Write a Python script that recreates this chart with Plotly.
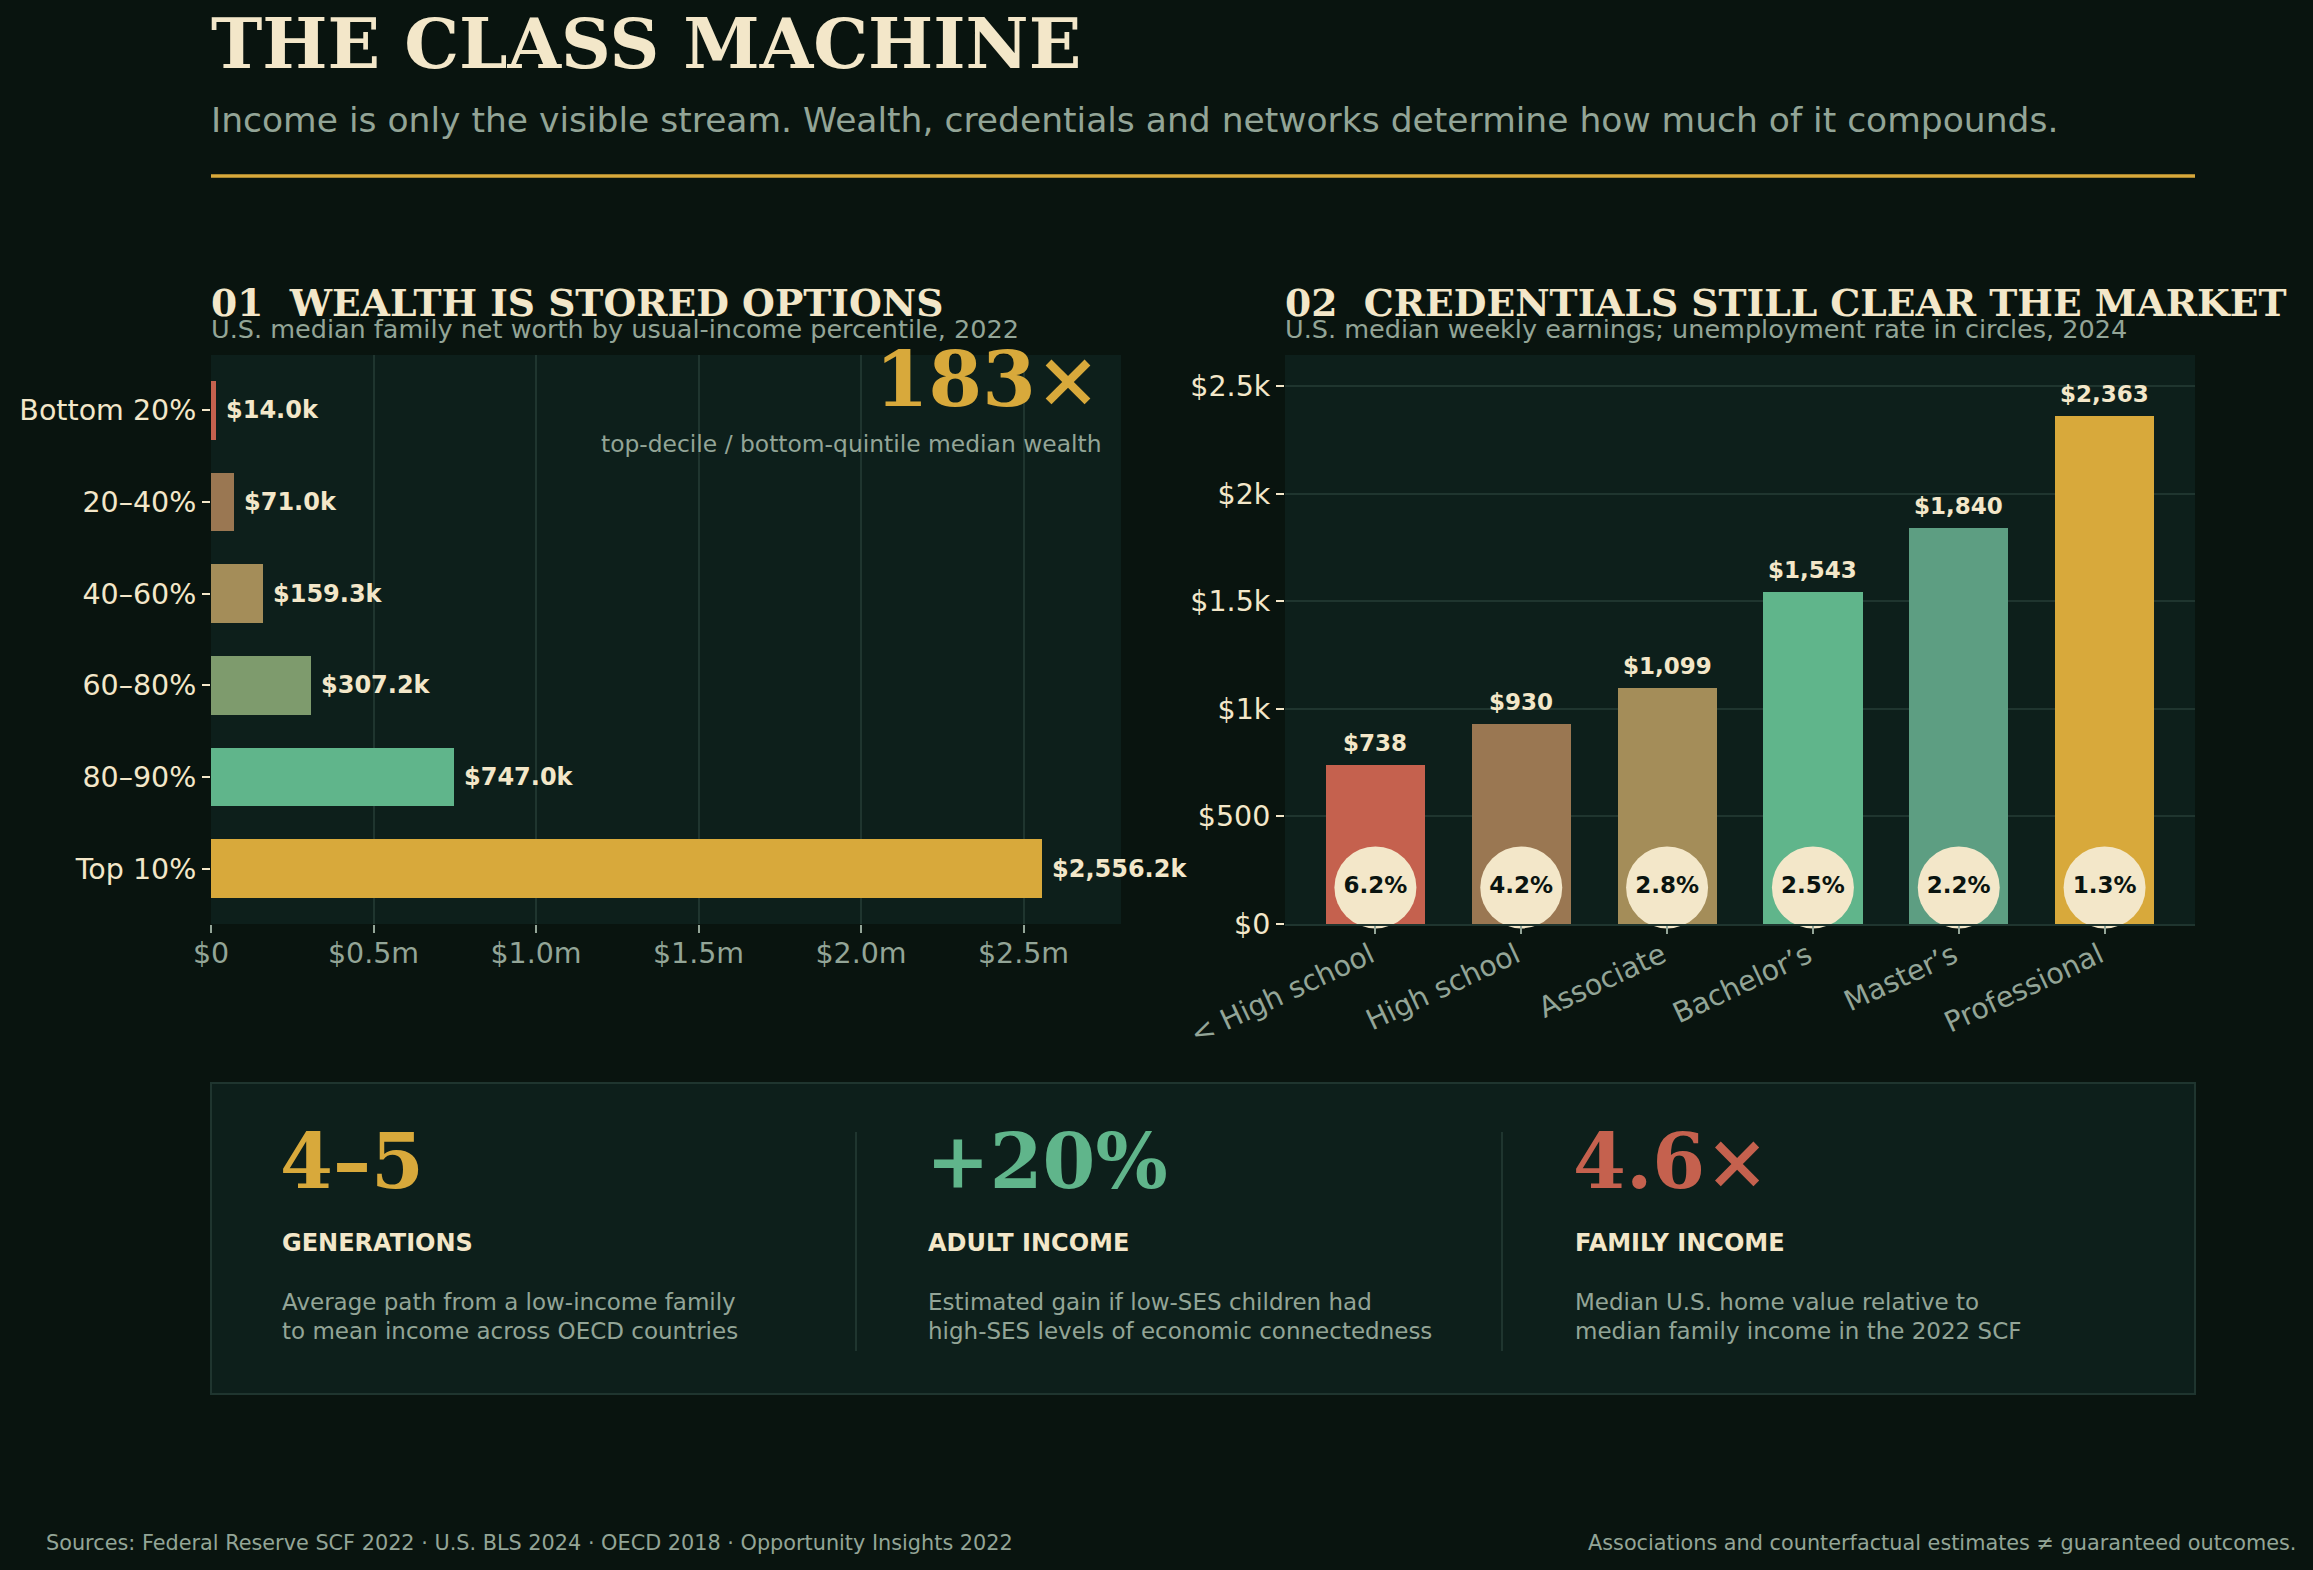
import plotly.graph_objects as go

W, H = 2313, 1570

# ---------------- data ----------------
wealth_groups = ["Bottom 20%", "20–40%", "40–60%", "60–80%", "80–90%", "Top 10%"]
wealth_values_k = [14.0, 71.0, 159.3, 307.2, 747.0, 2556.2]
wealth_colors = ["#c5614e", "#9a7752", "#a48d59", "#7e9b6d", "#60b58b", "#d8a93b"]
wealth_ticks_k = [0, 500, 1000, 1500, 2000, 2500]
wealth_tick_labels = ["$0", "$0.5m", "$1.0m", "$1.5m", "$2.0m", "$2.5m"]

edu_levels = ["< High school", "High school", "Associate", "Bachelor’s", "Master’s", "Professional"]
weekly_earnings = [738, 930, 1099, 1543, 1840, 2363]
unemployment_pct = [6.2, 4.2, 2.8, 2.5, 2.2, 1.3]
edu_colors = ["#c5614e", "#9a7752", "#a48d59", "#60b58b", "#5d9e82", "#d8a93b"]
earn_ticks = [0, 500, 1000, 1500, 2000, 2500]
earn_tick_labels = ["$0", "$500", "$1k", "$1.5k", "$2k", "$2.5k"]

stat_values = ["4–5", "+20%", "4.6×"]
stat_labels = ["GENERATIONS", "ADULT INCOME", "FAMILY INCOME"]
stat_desc = [
    ["Average path from a low-income family", "to mean income across OECD countries"],
    ["Estimated gain if low-SES children had", "high-SES levels of economic connectedness"],
    ["Median U.S. home value relative to", "median family income in the 2022 SCF"],
]
stat_colors = ["#d8a93b", "#60b58b", "#c5614e"]

# ---------------- style ----------------
BG = "#09140f"
PANEL = "#0d1f1b"
GRID = "#1f352f"
CREAM = "#f3e7c9"
GRAY = "#93a597"
GOLD = "#d8a93b"
DARK = "#0a1410"
SANS = "DejaVu Sans"
SERIF = "DejaVu Serif"


def px(x):
    return x / W


def py(y):
    return 1 - y / H


fig = go.Figure()

# Panel 1: horizontal bars
fig.add_trace(go.Bar(
    y=wealth_groups, x=wealth_values_k, orientation="h",
    marker=dict(color=wealth_colors, line=dict(width=0)),
    width=0.64, xaxis="x", yaxis="y", hoverinfo="skip", showlegend=False,
))

# Panel 2: vertical bars
fig.add_trace(go.Bar(
    x=edu_levels, y=weekly_earnings,
    marker=dict(color=edu_colors, line=dict(width=0)),
    width=0.68, xaxis="x2", yaxis="y2", hoverinfo="skip", showlegend=False,
))

# Unemployment circles
CIRCLE_Y = 170
fig.add_trace(go.Scatter(
    x=edu_levels, y=[CIRCLE_Y] * len(edu_levels), mode="markers+text",
    marker=dict(size=82, color=CREAM, line=dict(width=0)),
    text=[f"{u:.1f}%" for u in unemployment_pct], textposition="middle center",
    textfont=dict(family=SANS, size=23, color=DARK, weight="bold"),
    xaxis="x2", yaxis="y2", cliponaxis=False, hoverinfo="skip", showlegend=False,
))

ann = []


def txt(text, x, y, size, color, family=SANS, weight="normal", xanchor="left", yanchor="middle"):
    ann.append(dict(text=text, x=px(x), y=py(y), xref="paper", yref="paper",
                    xanchor=xanchor, yanchor=yanchor, showarrow=False,
                    font=dict(family=family, size=size, color=color, weight=weight)))


# Header
txt("THE CLASS MACHINE", 209, 44, 69, CREAM, SERIF, "bold")
txt("Income is only the visible stream. Wealth, credentials and networks determine how much of it compounds.",
    209, 120, 34.5, GRAY)

# Section titles
txt("01\u00a0\u00a0WEALTH IS STORED OPTIONS", 209, 303, 37.7, CREAM, SERIF, "bold")
txt("U.S. median family net worth by usual-income percentile, 2022", 209, 329, 25.5, GRAY)
txt("02\u00a0\u00a0CREDENTIALS STILL CLEAR THE MARKET", 1283, 303, 37.7, CREAM, SERIF, "bold")
txt("U.S. median weekly earnings; unemployment rate in circles, 2024", 1283, 329, 25.5, GRAY)

# 183x callout
txt("183×", 1102, 379, 77, GOLD, SERIF, "bold", xanchor="right")
txt("top-decile / bottom-quintile median wealth", 1104, 444, 23.4, GRAY, xanchor="right")

# Panel 1 value labels
for g, v in zip(wealth_groups, wealth_values_k):
    ann.append(dict(text=f"${v:,.1f}k", x=v, y=g, xref="x", yref="y", xanchor="left",
                    yanchor="middle", xshift=8, showarrow=False,
                    font=dict(family=SANS, size=24, color=CREAM, weight="bold")))

# Panel 2 value labels
for lvl, v in zip(edu_levels, weekly_earnings):
    ann.append(dict(text=f"${v:,}", x=lvl, y=v, xref="x2", yref="y2", xanchor="center",
                    yanchor="middle", yshift=22, showarrow=False,
                    font=dict(family=SANS, size=23, color=CREAM, weight="bold")))

# Stats strip
col_x = [280, 926, 1573]
for i in range(3):
    txt(stat_values[i], col_x[i] - 2, 1161, 76, stat_colors[i], SERIF, "bold")
    txt(stat_labels[i], col_x[i], 1243, 24, CREAM, SANS, "bold")
    txt(stat_desc[i][0], col_x[i], 1302, 23, GRAY)
    txt(stat_desc[i][1], col_x[i], 1331, 23, GRAY)

# Footer
txt("Sources: Federal Reserve SCF 2022 · U.S. BLS 2024 · OECD 2018 · Opportunity Insights 2022",
    44, 1543, 20.8, GRAY)
txt("Associations and counterfactual estimates ≠ guaranteed outcomes.", 2298, 1543, 20.8, GRAY,
    xanchor="right")

shapes = [
    # gold rule
    dict(type="line", xref="paper", yref="paper", x0=px(211), x1=px(2195), y0=py(176), y1=py(176),
         line=dict(color=GOLD, width=3.5)),
    # stats box
    dict(type="rect", xref="paper", yref="paper", x0=px(211), x1=px(2195), y0=py(1083), y1=py(1394),
         fillcolor=PANEL, line=dict(color=GRID, width=2), layer="below"),
    dict(type="line", xref="paper", yref="paper", x0=px(856), x1=px(856), y0=py(1132), y1=py(1351),
         line=dict(color=GRID, width=2)),
    dict(type="line", xref="paper", yref="paper", x0=px(1502), x1=px(1502), y0=py(1132), y1=py(1351),
         line=dict(color=GRID, width=2)),
]

ydom = [py(924), py(355)]

fig.update_layout(
    width=W, height=H, margin=dict(l=0, r=0, t=0, b=0, autoexpand=False),
    paper_bgcolor=BG, plot_bgcolor=PANEL,
    font=dict(family=SANS, color=CREAM),
    showlegend=False, bargap=0,
    annotations=ann, shapes=shapes,
    xaxis=dict(domain=[px(211), px(1121)], anchor="y", range=[0, 2800], automargin=False,
               tickvals=wealth_ticks_k, ticktext=wealth_tick_labels,
               showgrid=True, gridcolor=GRID, gridwidth=1.5, zeroline=False, showline=False,
               ticks="outside", ticklen=8, tickwidth=1.5, tickcolor=GRAY, ticklabelstandoff=-4,
               tickfont=dict(family=SANS, size=28.5, color=GRAY)),
    yaxis=dict(domain=ydom, anchor="x", type="category", categoryorder="array", automargin=False,
               categoryarray=wealth_groups, range=[5.605, -0.605],
               showgrid=False, zeroline=False, showline=False,
               ticks="outside", ticklen=8, tickwidth=1.5, tickcolor=CREAM,
               tickfont=dict(family=SANS, size=28.5, color=CREAM)),
    xaxis2=dict(domain=[px(1285), px(2195)], anchor="y2", type="category", categoryorder="array",
                categoryarray=edu_levels, range=[-0.62, 5.62], automargin=False,
                tickvals=edu_levels, ticktext=[s.replace("<", "&lt;") for s in edu_levels],
                tickangle=-25, showgrid=False, zeroline=False,
                showline=True, linecolor=GRID, linewidth=1.5,
                ticks="outside", ticklen=8, tickwidth=1.5, tickcolor=GRAY,
                ticklabelstandoff=-6, ticklabelshift=-5,
                tickfont=dict(family=SANS, size=28.5, color=GRAY)),
    yaxis2=dict(domain=ydom, anchor="x2", range=[0, 2646], automargin=False,
                tickvals=earn_ticks, ticktext=earn_tick_labels,
                showgrid=True, gridcolor=GRID, gridwidth=1.5, zeroline=False, showline=False,
                ticks="outside", ticklen=8, tickwidth=1.5, tickcolor=CREAM,
                tickfont=dict(family=SANS, size=28.5, color=CREAM)),
)

fig.write_html("out.html")
